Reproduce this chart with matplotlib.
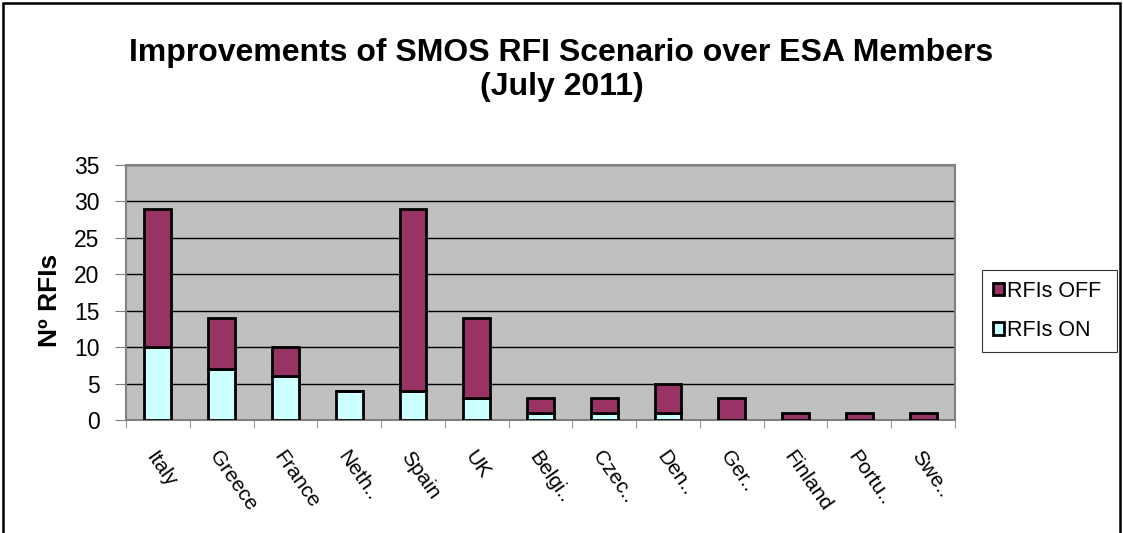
import matplotlib.pyplot as plt
import numpy as np

plt.rcParams['font.family'] = ['Liberation Sans', 'DejaVu Sans']

countries = ['Italy', 'Greece', 'France', 'Neth..', 'Spain', 'UK', 'Belgi..',
             'Czec..', 'Den..', 'Ger..', 'Finland', 'Portu..', 'Swe..']
rfis_on = [10, 7, 6, 4, 4, 3, 1, 1, 1, 0, 0, 0, 0]
rfis_off = [19, 7, 4, 0, 25, 11, 2, 2, 4, 3, 1, 1, 1]

fig = plt.figure(figsize=(11.23, 5.33), dpi=100)
ax = fig.add_axes([126/1123, 1 - 420/533, (955-126)/1123, (420-165)/533])

x = np.arange(len(countries))
w = 0.42
ax.bar(x, rfis_on, w, color='#CCFFFF', edgecolor='black', linewidth=2,
       label='RFIs ON', zorder=3)
ax.bar(x, rfis_off, w, bottom=rfis_on, color='#993366', edgecolor='black',
       linewidth=2, label='RFIs OFF', zorder=3)

ax.set_facecolor('#C0C0C0')
ax.set_xlim(-0.5, len(countries) - 0.5)
ax.set_ylim(0, 35)
ax.set_yticks(range(0, 36, 5))
ax.yaxis.grid(True, color='black', linewidth=1)
ax.set_axisbelow(True)
for s in ['top', 'right', 'left', 'bottom']:
    ax.spines[s].set_color('#808080')
    ax.spines[s].set_linewidth(1.5)

ax.set_xticks(x)
ax.set_xticklabels(countries, rotation=-55, ha='left', va='top',
                   rotation_mode='anchor', fontsize=15)
ax.set_xticks(np.arange(-0.5, len(countries), 1), minor=True)
ax.tick_params(axis='x', which='major', length=0, pad=20)
ax.tick_params(axis='x', which='minor', length=6, color='#808080')
ax.tick_params(axis='y', labelsize=16.5, length=8, color='#808080', pad=11)

ax.set_ylabel('Nº RFIs', fontsize=19, fontweight='bold')
ax.yaxis.set_label_coords(-64/829, 0.47)

fig.text(0.5, 1 - 70/533, 'Improvements of SMOS RFI Scenario over ESA Members\n(July 2011)',
         ha='center', va='center', fontsize=23, fontweight='bold', linespacing=1.2)

handles, labels = ax.get_legend_handles_labels()
leg = fig.legend(handles[::-1], labels[::-1], loc='upper left', mode='expand',
                 bbox_to_anchor=(982/1123, 1 - 348/533, 135/1123, 78/533),
                 fontsize=15.5, frameon=True, fancybox=False, edgecolor='black',
                 handlelength=0.5, handleheight=0.5, handletextpad=0.15,
                 borderpad=0.5, labelspacing=0.85, borderaxespad=0)
leg.get_frame().set_linewidth(0.8)

border = plt.Rectangle((3/1123, -0.05), 1 - 6/1123, 1.05 - 3/533, transform=fig.transFigure,
                       fill=False, edgecolor='black', linewidth=1.8)
fig.patches.append(border)

fig.savefig('out.png', dpi=100)
